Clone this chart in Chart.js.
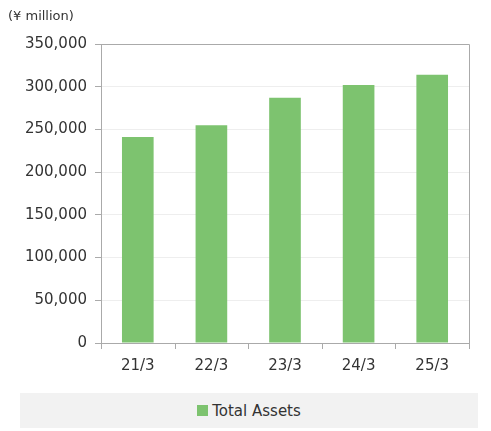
<!DOCTYPE html>
<html>
<head>
<meta charset="utf-8">
<script src="https://cdn.jsdelivr.net/npm/chart.js@4"></script>
<style>
  body { margin: 0; background: #fff; font-family: "DejaVu Sans", sans-serif; }
  #wrap { position: relative; width: 491px; height: 385px; }
  #legend { position: absolute; left: 20px; top: 393px; width: 458px; height: 35px; background: #f2f2f2;
    font-size: 15px; color: #333; display: flex; align-items: center; justify-content: center; }
  #legend span.box { display: inline-block; width: 11px; height: 11px; background: #7dc36f; margin-right: 4px; }
</style>
</head>
<body>
<div id="wrap"><canvas id="c" width="491" height="385"></canvas></div>
<div id="legend"><span class="box"></span>Total Assets</div>
<script>
const categories = ['21/3', '22/3', '23/3', '24/3', '25/3'];
const totalAssets = [241000, 255000, 287000, 302000, 314000];

const unitLabel = {
  id: 'unitLabel',
  afterDraw(chart) {
    const ctx = chart.ctx;
    ctx.save();
    ctx.font = '13px "DejaVu Sans", sans-serif';
    ctx.fillStyle = '#333';
    ctx.textBaseline = 'middle';
    ctx.fillText('(¥ million)', 8, 17);
    ctx.restore();
  }
};

new Chart(document.getElementById('c'), {
  type: 'bar',
  data: {
    labels: categories,
    datasets: [{
      label: 'Total Assets',
      data: totalAssets,
      backgroundColor: '#7dc36f',
      barPercentage: 0.43,
      categoryPercentage: 1
    }]
  },
  options: {
    responsive: false,
    animation: false,
    layout: { padding: { top: 44, right: 22, left: 0, bottom: 0 } },
    plugins: { legend: { display: false }, tooltip: { enabled: false } },
    scales: {
      x: {
        afterFit(s) { s.height = 42; },
        grid: { display: false, drawOnChartArea: false },
        border: { color: '#aaa' },
        ticks: { color: '#333', font: { size: 15, family: 'DejaVu Sans' }, padding: 6 }
      },
      y: {
        min: 0, max: 350000,
        afterFit(s) { s.width = 101; },
        ticks: {
          stepSize: 50000, color: '#333', padding: 8,
          font: { size: 15, family: 'DejaVu Sans' },
          callback: v => v.toLocaleString('en-US')
        },
        grid: { color: '#eeeeee', tickLength: 6, tickColor: '#aaa' },
        border: { color: '#aaa' }
      }
    }
  },
  plugins: [unitLabel, {
    id: 'frame',
    afterDraw(chart) {
      const { ctx, chartArea: a } = chart;
      ctx.save();
      ctx.strokeStyle = '#aaa';
      ctx.lineWidth = 1;
      ctx.beginPath();
      ctx.moveTo(a.left, a.top + 0.5); ctx.lineTo(a.right + 0.5, a.top + 0.5); ctx.lineTo(a.right + 0.5, a.bottom);
      for (let i = 0; i <= categories.length; i++) {
        const x = Math.round(a.left + (a.right - a.left) * i / categories.length) + 0.5;
        ctx.moveTo(x, a.bottom); ctx.lineTo(x, a.bottom + 6);
      }
      ctx.stroke();
      ctx.restore();
    }
  }]
});
</script>
</body>
</html>
